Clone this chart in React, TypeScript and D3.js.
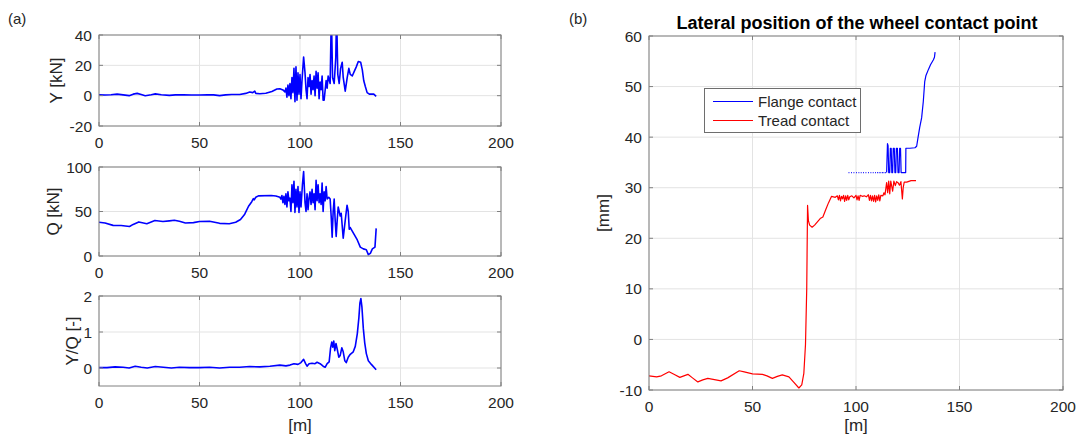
import React from 'react'
import * as d3 from 'd3'

// ---- panel (a): wheel forces along the track ----
const yForceX = [0, 3, 6, 9, 12, 15, 17, 19, 21, 23, 26, 28, 31, 35, 38, 42, 46, 50, 54, 57, 60, 63, 66, 70, 73, 75, 76.5, 77.5, 78, 80, 83, 86, 88.5, 90, 91.5, 92.5, 93, 93.5, 94, 94.5, 95, 95.5, 96, 96.5, 97, 97.5, 98, 98.5, 99, 99.5, 100, 100.5, 101, 101.8, 102.5, 103, 103.5, 104, 104.5, 105, 105.5, 106, 106.5, 107, 107.5, 108, 108.5, 109, 109.5, 110, 110.5, 111, 111.5, 112, 113, 113.5, 114, 115, 115.6, 116.2, 117, 117.8, 118.2, 118.8, 119.5, 120.2, 121, 121.5, 122.5, 123.5, 124.3, 125, 126, 127, 128, 129, 130.2, 131, 131.7, 132.5, 133.4, 134.5, 136.7, 137.9]
const yForce = [0.5, 0.4, 0.6, 1.0, 0.5, 0.0, 1.0, 1.5, 0.8, 0.0, 0.6, 1.2, 0.6, 0.2, 0.5, 0.6, 0.4, 0.4, 0.6, 0.5, 0.0, 0.5, 0.8, 0.8, 1.5, 2.4, 2.0, 3.0, 1.5, 1.3, 1.6, 2.8, 4.4, 4.6, 3.8, 2.5, 5, -1, 7, 0, 8, -2, 12, 2, 18, -4, 19, -3, 15, 1, 14, -2, 10, 25.5, 15, 4, -2, 12, 6, 14, 1, 10, 4, 13, 0, 16, 5, 15, -2, 9, 4, 13, -3, -3, 10, 5, 13, 8, 55, 12, 8, 25, 55, 14, 8, 18, 22, 12, 3, 12, 18, 14, 13, 16, 19, 22.5, 22, 17, 10, 6, 2, 1, 1, -0.5]

const qForceX = [0, 3, 7, 11, 15.2, 17, 19.8, 23.8, 27.8, 31.8, 35, 37.5, 40, 43, 47, 50, 55, 60, 64.8, 68, 70.4, 72.5, 74.4, 76, 76.8, 77.2, 78, 79.3, 85.7, 88, 90, 90.5, 91, 91.5, 92, 92.5, 93, 93.5, 94, 94.5, 95, 95.5, 96, 96.5, 97, 97.5, 98, 98.5, 99, 99.5, 100, 100.5, 101.2, 101.8, 102.5, 103, 103.5, 104, 104.5, 105, 105.5, 106, 106.5, 107, 107.5, 108, 108.5, 109, 109.5, 110, 110.5, 111, 111.5, 112, 112.5, 113, 113.5, 114.3, 115, 115.5, 116, 116.5, 117, 117.5, 118, 118.5, 119, 119.5, 120, 120.5, 121.5, 122.5, 123.4, 124, 124.5, 125, 126, 127, 128.5, 130, 131.5, 133, 134, 135, 136, 137.3, 137.9]
const qForce = [37.9, 37, 34.4, 34.2, 33.2, 35.5, 38.3, 36.3, 39.8, 38.7, 39.5, 40.2, 39, 37.1, 37.5, 38.7, 39.1, 36.7, 36.3, 38, 41, 47, 55.9, 61, 64.5, 63, 66, 67.6, 68, 67.5, 66, 64, 68, 60, 67, 58, 70, 55, 72, 62, 65, 50, 80, 60, 84, 49, 75, 55, 78, 49, 72, 55, 80, 95, 60, 50, 70, 52, 65, 72, 58, 75, 60, 70, 52, 85, 62, 80, 60, 70, 58, 82, 50, 72, 62, 78, 64, 66, 64, 45, 21, 50, 64, 40, 22, 40, 55, 50, 45, 48, 20, 40, 57, 50, 30, 32, 28, 24, 18, 10, 8, 7, 1.5, 3, 8, 10, 31]

const ratioX = [0, 4, 8, 12, 15, 18, 21, 24, 28, 32, 36, 40, 45, 50, 55, 60, 65, 70, 75, 80, 85, 90, 93, 95, 97, 99, 100.5, 101.8, 102.8, 103.5, 104.5, 106, 107.5, 108.5, 110, 111.5, 112.5, 113.5, 114.5, 115.2, 115.8, 116.3, 116.8, 117.3, 117.9, 118.6, 119.3, 120, 120.8, 121.5, 122.3, 123, 124, 125, 126.5, 127.5, 128.5, 129.3, 129.8, 130.3, 130.8, 131.5, 132.2, 133, 134, 135.5, 137.9]
const ratio = [0.01, 0.01, 0.03, 0.02, 0.0, 0.05, 0.02, 0.0, 0.04, 0.02, 0.0, 0.02, 0.01, 0.01, 0.02, 0.0, 0.02, 0.02, 0.04, 0.03, 0.05, 0.08, 0.06, 0.08, 0.12, 0.1, 0.15, 0.24, 0.12, 0.05, 0.12, 0.13, 0.12, 0.16, 0.12, 0.05, 0.02, 0.12, 0.17, 0.55, 0.72, 0.58, 0.75, 0.48, 0.68, 0.5, 0.3, 0.35, 0.56, 0.45, 0.2, 0.15, 0.3, 0.38, 0.45, 0.6, 0.95, 1.4, 1.8, 1.93, 1.7, 1.1, 0.7, 0.4, 0.2, 0.1, -0.05]

// ---- panel (b): lateral position of the contact point ----
const treadX = [0, 3.7, 6, 9.7, 12.5, 14.9, 18.8, 21, 23.6, 26, 28.4, 31, 34.8, 38, 43.6, 46, 50, 54.8, 57, 59.6, 62, 64.4, 67.6, 70, 72.4, 73.8, 74.8, 75.6, 76.2, 76.6, 77, 77.6, 78.8, 80, 82.7, 84, 85.5, 86.7, 88.2, 90, 91, 91.5, 92, 92.5, 93, 93.5, 94, 94.5, 95, 95.5, 96, 96.5, 97, 98, 99, 100, 100.5, 101, 101.5, 102, 103, 104, 105, 106, 106.5, 107, 107.5, 108, 108.5, 109, 109.5, 110, 110.5, 111, 111.5, 112, 113, 113.5, 114, 114.8, 115.3, 115.8, 116.3, 116.8, 117.7, 118.3, 119, 119.6, 120.3, 121, 121.7, 122.4, 122.8, 123.3, 124.5, 126.6, 129]
const tread = [-7.2, -7.4, -7.2, -6.4, -7.0, -7.5, -6.9, -7.6, -8.4, -8.0, -7.7, -7.9, -8.2, -7.6, -6.2, -6.4, -6.8, -6.9, -7.2, -7.7, -7.3, -7.0, -7.4, -8.5, -9.6, -9.0, -6.7, -1, 10, 26.5, 23.5, 22.6, 22.2, 22.6, 23.9, 24.2, 25.8, 27, 28.3, 28.1, 28.4, 27.6, 28.5, 27.4, 28.3, 27.8, 28.5, 27.3, 28.4, 27.5, 28.5, 27.6, 28.2, 28.4, 28.0, 28.5, 27.6, 28.4, 27.5, 28.5, 28.3, 28.4, 28.2, 28.6, 27.5, 28.5, 27.4, 28.4, 27.3, 28.5, 27.2, 28.4, 27.5, 28.6, 27.4, 28.5, 28.4, 29.0, 28.6, 31.0, 29.0, 31.3, 28.8, 31.3, 29.3, 31.3, 30.4, 31.2, 31.0, 30.5, 31.2, 27.8, 30.0, 31.1, 31.1, 31.4, 31.4]

const flangeX = [114.8, 115.2, 115.5, 115.8, 116.3, 116.6, 117.0, 117.3, 117.7, 118.0, 118.5, 118.8, 119.2, 119.5, 120.0, 120.3, 120.8, 121.1, 121.5, 121.8, 124.0, 124.1, 126, 128.5, 129.3, 130, 130.8, 131.7, 132.5, 133.2, 133.8, 135, 136, 137.4, 137.9, 138.2]
const flange = [33, 38.7, 38.3, 33, 33, 37.8, 37.8, 33, 33, 37.8, 37.8, 33, 33, 37.8, 37.8, 33, 33, 37.8, 37.8, 33, 33, 37.8, 37.8, 37.9, 38.2, 40, 42, 43.8, 47, 51, 52.2, 53.4, 54.3, 55.3, 55.8, 56.8]
// brief flange contacts before the continuous part (each about 0.4 m long, at 33 mm)
const flangeBlipX = [96.4, 97.6, 98.8, 100, 101.2, 102.3, 103.4, 104.6, 105.8, 107, 108.1, 109.2, 110.2, 111, 111.8, 112.6, 113.3, 114]
const flangeBlipLevel = 33

const xTicks = [0, 50, 100, 150, 200]

const FONT = '"Liberation Sans", Arial, Helvetica, sans-serif'
const TEXT = '#262626'
const BOX = '#808080'
const GRID = '#e3e3e3'
const TICK_FS = 15.5
const LABEL_FS = 17

type Pt = [number, number]

function Axes(props: {
  id: string
  x0: number; x1: number; y0: number; y1: number
  yDomain: [number, number]
  yTicks: number[]
  ylabel: string
  ylabelX: number
  xlabel?: string
  series: { pts: Pt[][]; color: string; width: number }[]
}) {
  const { id, x0, x1, y0, y1, yDomain, yTicks, ylabel, ylabelX, xlabel, series } = props
  const xs = d3.scaleLinear().domain([0, 200]).range([x0, x1])
  const ys = d3.scaleLinear().domain(yDomain).range([y1, y0])
  const line = d3.line<Pt>().x(d => xs(d[0])).y(d => ys(d[1]))
  const tl = 4
  return (
    <g>
      <defs>
        <clipPath id={id}>
          <rect x={x0} y={y0} width={x1 - x0} height={y1 - y0} />
        </clipPath>
      </defs>
      <rect x={x0} y={y0} width={x1 - x0} height={y1 - y0} fill="#fff" />
      {xTicks.map(t => (
        <line key={'gx' + t} x1={xs(t)} x2={xs(t)} y1={y0} y2={y1} stroke={GRID} />
      ))}
      {yTicks.map(t => (
        <line key={'gy' + t} x1={x0} x2={x1} y1={ys(t)} y2={ys(t)} stroke={GRID} />
      ))}
      <g clipPath={`url(#${id})`}>
        {series.map((s, i) =>
          s.pts.map((p, j) => (
            <path key={i + '-' + j} d={line(p) ?? ''} fill="none" stroke={s.color} strokeWidth={s.width} strokeLinejoin="round" />
          ))
        )}
      </g>
      <rect x={x0} y={y0} width={x1 - x0} height={y1 - y0} fill="none" stroke={BOX} />
      {xTicks.map(t => (
        <g key={'tx' + t}>
          <line x1={xs(t)} x2={xs(t)} y1={y1} y2={y1 - tl} stroke={BOX} />
          <line x1={xs(t)} x2={xs(t)} y1={y0} y2={y0 + tl} stroke={BOX} />
          <text x={xs(t)} y={y1 + 22} textAnchor="middle" fontSize={TICK_FS} fill={TEXT}>{t}</text>
        </g>
      ))}
      {yTicks.map(t => (
        <g key={'ty' + t}>
          <line x1={x0} x2={x0 + tl} y1={ys(t)} y2={ys(t)} stroke={BOX} />
          <line x1={x1} x2={x1 - tl} y1={ys(t)} y2={ys(t)} stroke={BOX} />
          <text x={x0 - 7} y={ys(t)} dy="0.36em" textAnchor="end" fontSize={TICK_FS} fill={TEXT}>{t}</text>
        </g>
      ))}
      <text transform={`translate(${ylabelX},${(y0 + y1) / 2}) rotate(-90)`} textAnchor="middle" fontSize={LABEL_FS} fill={TEXT}>{ylabel}</text>
      {xlabel && (
        <text x={(x0 + x1) / 2} y={431} textAnchor="middle" fontSize={LABEL_FS} fill={TEXT}>{xlabel}</text>
      )}
    </g>
  )
}

export default function App() {
  const zipPts = (a: number[], b: number[]) => a.map((v, i) => [v, b[i]] as Pt)
  const blips = flangeBlipX.map(x => [[x, flangeBlipLevel], [x + 0.4, flangeBlipLevel]] as Pt[])
  const ax0 = 99, ax1 = 501
  return (
    <svg width={1083} height={439} style={{ position: 'absolute', left: 0, top: 0, fontFamily: FONT }}>
      <rect width={1083} height={439} fill="#fff" />
      <text x={8} y={24} fontSize={15} fill={TEXT}>(a)</text>
      <text x={569} y={24} fontSize={15} fill={TEXT}>(b)</text>

      <Axes id="ca1" x0={ax0} x1={ax1} y0={35} y1={126} yDomain={[-20, 40]} yTicks={[-20, 0, 20, 40]}
        ylabel="Y [kN]" ylabelX={62}
        series={[{ pts: [zipPts(yForceX, yForce)], color: '#0000ff', width: 1.6 }]} />
      <Axes id="ca2" x0={ax0} x1={ax1} y0={167} y1={256} yDomain={[0, 100]} yTicks={[0, 50, 100]}
        ylabel="Q [kN]" ylabelX={59}
        series={[{ pts: [zipPts(qForceX, qForce)], color: '#0000ff', width: 1.6 }]} />
      <Axes id="ca3" x0={ax0} x1={ax1} y0={296} y1={386} yDomain={[-0.5, 2]} yTicks={[0, 1, 2]}
        ylabel="Y/Q [-]" ylabelX={78} xlabel="[m]"
        series={[{ pts: [zipPts(ratioX, ratio)], color: '#0000ff', width: 1.6 }]} />

      <Axes id="cb" x0={649} x1={1063} y0={36} y1={390} yDomain={[-10, 60]} yTicks={[-10, 0, 10, 20, 30, 40, 50, 60]}
        ylabel="[mm]" ylabelX={609} xlabel="[m]"
        series={[
          { pts: [zipPts(flangeX, flange), ...blips], color: '#0000ff', width: 1.2 },
          { pts: [zipPts(treadX, tread)], color: '#ff0000', width: 1.2 },
        ]} />
      <text x={857} y={29} textAnchor="middle" fontSize={18} fontWeight="bold" fill="#000">
        Lateral position of the wheel contact point
      </text>

      <g>
        <rect x={704.5} y={88.5} width={156} height={44} fill="#fff" stroke="#6e6e6e" />
        <line x1={713} x2={753} y1={101.5} y2={101.5} stroke="#0000ff" strokeWidth={1.2} />
        <text x={758} y={101.5} dy="0.36em" fontSize={15} fill={TEXT}>Flange contact</text>
        <line x1={713} x2={753} y1={120.5} y2={120.5} stroke="#ff0000" strokeWidth={1.2} />
        <text x={758} y={120.5} dy="0.36em" fontSize={15} fill={TEXT}>Tread contact</text>
      </g>
    </svg>
  )
}
